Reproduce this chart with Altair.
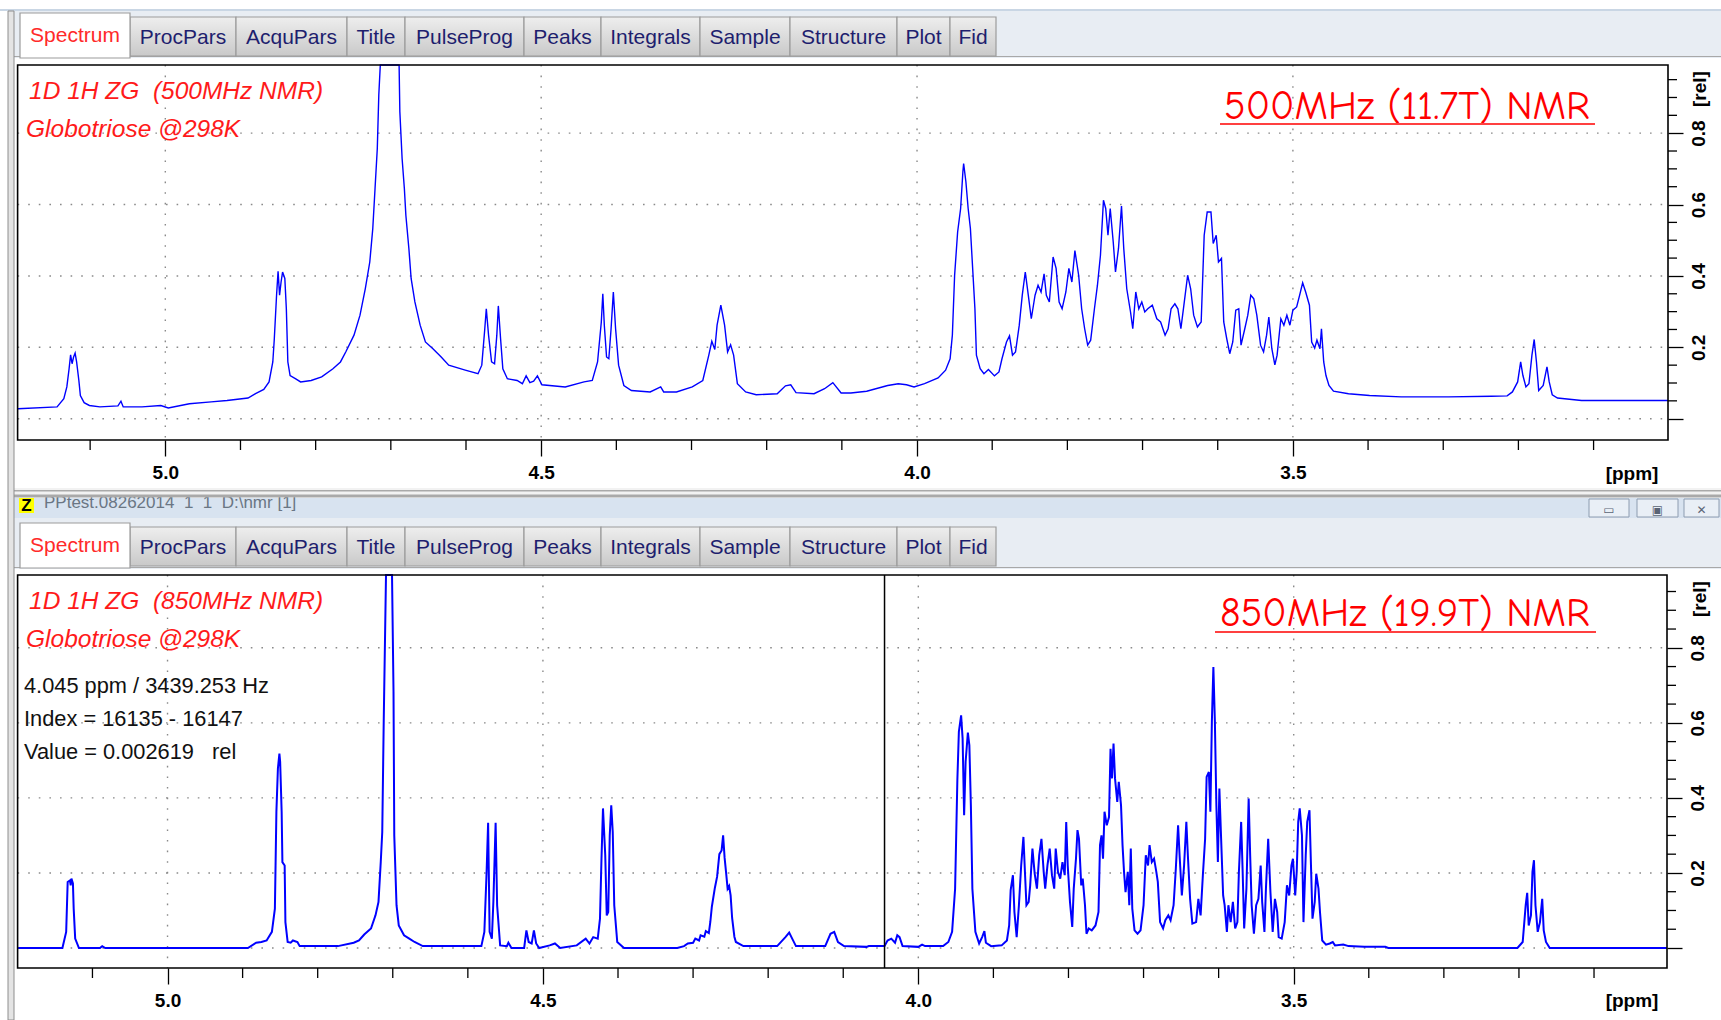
import altair as alt
import pandas as pd

W, H = 1721, 1020

# ---------------- data ----------------
spec_500 = [
    (5.196, 0.028), (5.144, 0.033), (5.135, 0.056), (5.131, 0.089), (5.128, 0.140), (5.126, 0.179),
    (5.124, 0.154), (5.122, 0.173), (5.120, 0.184), (5.118, 0.159), (5.115, 0.107), (5.113, 0.065),
    (5.108, 0.045), (5.101, 0.037), (5.087, 0.033), (5.063, 0.036), (5.059, 0.049), (5.056, 0.033),
    (5.031, 0.033), (5.006, 0.037), (4.996, 0.030), (4.968, 0.042), (4.939, 0.047), (4.918, 0.051),
    (4.890, 0.058), (4.880, 0.070), (4.869, 0.082), (4.862, 0.103), (4.857, 0.159), (4.855, 0.224),
    (4.852, 0.346), (4.850, 0.413), (4.848, 0.346), (4.846, 0.383), (4.844, 0.411), (4.841, 0.393),
    (4.839, 0.308), (4.837, 0.159), (4.834, 0.121), (4.827, 0.112), (4.820, 0.103), (4.806, 0.107),
    (4.792, 0.117), (4.777, 0.140), (4.767, 0.159), (4.760, 0.187), (4.749, 0.234), (4.741, 0.290),
    (4.734, 0.364), (4.728, 0.439), (4.724, 0.533), (4.721, 0.645), (4.718, 0.757), (4.716, 0.907),
    (4.714, 1.05), (4.702, 2.0), (4.689, 1.05), (4.688, 0.860), (4.685, 0.729), (4.682, 0.645),
    (4.680, 0.570), (4.676, 0.477), (4.673, 0.393), (4.668, 0.327), (4.661, 0.262), (4.654, 0.215),
    (4.644, 0.196), (4.633, 0.173), (4.623, 0.150), (4.601, 0.136), (4.584, 0.126), (4.579, 0.150),
    (4.575, 0.252), (4.573, 0.308), (4.570, 0.234), (4.566, 0.159), (4.562, 0.154), (4.559, 0.234),
    (4.557, 0.316), (4.554, 0.224), (4.551, 0.140), (4.545, 0.112), (4.532, 0.107), (4.525, 0.098),
    (4.520, 0.120), (4.515, 0.101), (4.510, 0.105), (4.505, 0.120), (4.499, 0.095), (4.468, 0.089),
    (4.443, 0.103), (4.432, 0.107), (4.425, 0.159), (4.420, 0.271), (4.418, 0.350), (4.416, 0.262),
    (4.413, 0.173), (4.410, 0.168), (4.407, 0.252), (4.404, 0.355), (4.401, 0.252), (4.397, 0.150),
    (4.390, 0.093), (4.380, 0.079), (4.355, 0.075), (4.341, 0.089), (4.337, 0.075), (4.320, 0.075),
    (4.299, 0.089), (4.285, 0.107), (4.277, 0.178), (4.273, 0.217), (4.269, 0.194), (4.266, 0.262),
    (4.261, 0.318), (4.256, 0.262), (4.252, 0.187), (4.248, 0.207), (4.244, 0.178), (4.239, 0.098),
    (4.228, 0.075), (4.214, 0.067), (4.186, 0.070), (4.175, 0.092), (4.168, 0.095), (4.161, 0.073),
    (4.137, 0.070), (4.123, 0.084), (4.112, 0.101), (4.101, 0.072), (4.088, 0.072), (4.067, 0.077),
    (4.039, 0.093), (4.025, 0.098), (4.014, 0.095), (4.004, 0.089), (3.990, 0.098), (3.972, 0.114),
    (3.962, 0.136), (3.956, 0.168), (3.953, 0.234), (3.950, 0.402), (3.946, 0.523), (3.942, 0.589),
    (3.939, 0.692), (3.938, 0.715), (3.935, 0.664), (3.932, 0.589), (3.929, 0.533), (3.926, 0.421),
    (3.923, 0.308), (3.921, 0.178), (3.916, 0.140), (3.911, 0.126), (3.905, 0.138), (3.897, 0.120),
    (3.891, 0.131), (3.887, 0.168), (3.881, 0.215), (3.877, 0.232), (3.873, 0.178), (3.869, 0.187),
    (3.864, 0.262), (3.860, 0.346), (3.856, 0.411), (3.852, 0.346), (3.848, 0.280), (3.843, 0.346),
    (3.839, 0.374), (3.835, 0.355), (3.831, 0.406), (3.828, 0.346), (3.824, 0.327), (3.819, 0.453),
    (3.815, 0.421), (3.811, 0.327), (3.807, 0.308), (3.802, 0.355), (3.798, 0.421), (3.794, 0.383),
    (3.790, 0.471), (3.785, 0.402), (3.781, 0.308), (3.777, 0.252), (3.773, 0.206), (3.769, 0.220),
    (3.764, 0.308), (3.760, 0.374), (3.756, 0.458), (3.752, 0.612), (3.749, 0.589), (3.746, 0.514),
    (3.743, 0.589), (3.739, 0.495), (3.736, 0.411), (3.732, 0.477), (3.728, 0.596), (3.725, 0.477),
    (3.721, 0.364), (3.716, 0.299), (3.713, 0.252), (3.709, 0.355), (3.705, 0.308), (3.701, 0.327),
    (3.697, 0.299), (3.693, 0.308), (3.687, 0.318), (3.681, 0.280), (3.676, 0.271), (3.670, 0.234),
    (3.666, 0.252), (3.662, 0.308), (3.657, 0.322), (3.653, 0.308), (3.649, 0.252), (3.645, 0.318),
    (3.640, 0.402), (3.636, 0.364), (3.632, 0.290), (3.627, 0.257), (3.622, 0.271), (3.618, 0.514),
    (3.614, 0.579), (3.609, 0.579), (3.606, 0.491), (3.602, 0.514), (3.599, 0.439), (3.595, 0.449),
    (3.592, 0.271), (3.588, 0.224), (3.584, 0.182), (3.580, 0.215), (3.576, 0.304), (3.572, 0.308),
    (3.569, 0.206), (3.564, 0.252), (3.560, 0.290), (3.556, 0.346), (3.552, 0.336), (3.548, 0.290),
    (3.543, 0.206), (3.539, 0.187), (3.535, 0.234), (3.532, 0.285), (3.528, 0.196), (3.524, 0.151),
    (3.521, 0.178), (3.516, 0.280), (3.512, 0.262), (3.508, 0.290), (3.504, 0.262), (3.500, 0.304),
    (3.495, 0.313), (3.491, 0.346), (3.487, 0.381), (3.483, 0.355), (3.478, 0.318), (3.475, 0.215),
    (3.471, 0.198), (3.468, 0.220), (3.464, 0.196), (3.462, 0.252), (3.459, 0.159), (3.456, 0.121),
    (3.452, 0.093), (3.446, 0.077), (3.426, 0.070), (3.398, 0.065), (3.356, 0.061), (3.293, 0.061),
    (3.236, 0.063), (3.215, 0.064), (3.208, 0.075), (3.201, 0.103), (3.197, 0.159), (3.194, 0.121),
    (3.190, 0.089), (3.186, 0.098), (3.182, 0.178), (3.179, 0.222), (3.176, 0.159), (3.173, 0.079),
    (3.167, 0.093), (3.162, 0.145), (3.159, 0.103), (3.155, 0.067), (3.148, 0.058), (3.116, 0.051),
    (3.046, 0.051), (3.001, 0.051),
]

spec_850 = [
    (5.199, 0.000), (5.140, 0.000), (5.135, 0.043), (5.133, 0.176), (5.130, 0.180), (5.129, 0.167),
    (5.128, 0.185), (5.126, 0.172), (5.125, 0.105), (5.123, 0.025), (5.118, 0.000), (5.090, 0.000),
    (5.087, 0.005), (5.083, 0.000), (4.893, 0.000), (4.882, 0.014), (4.875, 0.016), (4.868, 0.020),
    (4.861, 0.043), (4.857, 0.105), (4.855, 0.363), (4.853, 0.478), (4.851, 0.518), (4.850, 0.496),
    (4.848, 0.363), (4.847, 0.229), (4.844, 0.220), (4.843, 0.069), (4.840, 0.016), (4.836, 0.014),
    (4.833, 0.020), (4.827, 0.016), (4.824, 0.005), (4.773, 0.005), (4.752, 0.014), (4.745, 0.020),
    (4.738, 0.036), (4.729, 0.052), (4.723, 0.087), (4.719, 0.123), (4.716, 0.229), (4.714, 0.309),
    (4.712, 0.611), (4.709, 1.2), (4.705, 2.0), (4.701, 1.2), (4.699, 0.683), (4.698, 0.300),
    (4.695, 0.114), (4.692, 0.060), (4.685, 0.034), (4.678, 0.025), (4.671, 0.016), (4.660, 0.005),
    (4.582, 0.005), (4.578, 0.043), (4.575, 0.203), (4.573, 0.334), (4.571, 0.043), (4.568, 0.025),
    (4.566, 0.123), (4.563, 0.334), (4.561, 0.114), (4.557, 0.007), (4.548, 0.005), (4.546, 0.014),
    (4.542, 0.000), (4.525, 0.000), (4.522, 0.047), (4.519, 0.016), (4.515, 0.012), (4.512, 0.047),
    (4.509, 0.012), (4.505, 0.000), (4.491, 0.007), (4.484, 0.012), (4.477, 0.000), (4.455, 0.007),
    (4.443, 0.025), (4.438, 0.012), (4.433, 0.029), (4.427, 0.025), (4.424, 0.078), (4.422, 0.238),
    (4.420, 0.372), (4.417, 0.247), (4.415, 0.087), (4.413, 0.096), (4.411, 0.300), (4.409, 0.380),
    (4.407, 0.309), (4.405, 0.114), (4.401, 0.016), (4.392, 0.000), (4.321, 0.000), (4.312, 0.005),
    (4.307, 0.012), (4.300, 0.014), (4.297, 0.025), (4.292, 0.020), (4.290, 0.034), (4.285, 0.030),
    (4.283, 0.045), (4.279, 0.040), (4.277, 0.070), (4.275, 0.110), (4.271, 0.160), (4.268, 0.190),
    (4.265, 0.250), (4.262, 0.260), (4.260, 0.300), (4.258, 0.240), (4.256, 0.200), (4.254, 0.158),
    (4.252, 0.165), (4.250, 0.140), (4.248, 0.080), (4.245, 0.030), (4.243, 0.016), (4.233, 0.005),
    (4.188, 0.005), (4.177, 0.029), (4.172, 0.041), (4.168, 0.025), (4.163, 0.005), (4.124, 0.005),
    (4.117, 0.038), (4.112, 0.043), (4.107, 0.016), (4.099, 0.005),
    (4.069, 0.003), (4.066, 0.005), (4.045, 0.005), (4.041, 0.020), (4.036, 0.025), (4.031, 0.014),
    (4.028, 0.034), (4.025, 0.029), (4.021, 0.005), (4.000, 0.003), (3.995, 0.009), (3.991, 0.005),
    (3.967, 0.005), (3.960, 0.016), (3.955, 0.043), (3.951, 0.158), (3.948, 0.447), (3.946, 0.576),
    (3.943, 0.620), (3.941, 0.558), (3.939, 0.354), (3.937, 0.496), (3.934, 0.574), (3.932, 0.540),
    (3.930, 0.380), (3.928, 0.158), (3.924, 0.043), (3.919, 0.012), (3.915, 0.029), (3.912, 0.045),
    (3.910, 0.014), (3.903, 0.005), (3.889, 0.007), (3.882, 0.020), (3.879, 0.060), (3.877, 0.154),
    (3.874, 0.194), (3.872, 0.096), (3.869, 0.029), (3.866, 0.114), (3.863, 0.220), (3.860, 0.296),
    (3.858, 0.203), (3.856, 0.114), (3.853, 0.123), (3.851, 0.167), (3.848, 0.265), (3.845, 0.198),
    (3.842, 0.158), (3.839, 0.247), (3.836, 0.291), (3.833, 0.203), (3.831, 0.158), (3.828, 0.220),
    (3.825, 0.265), (3.822, 0.194), (3.819, 0.158), (3.817, 0.265), (3.814, 0.203), (3.811, 0.185),
    (3.808, 0.229), (3.805, 0.194), (3.803, 0.336), (3.801, 0.220), (3.798, 0.123), (3.795, 0.056),
    (3.793, 0.158), (3.790, 0.238), (3.788, 0.314), (3.786, 0.291), (3.783, 0.167), (3.781, 0.185),
    (3.778, 0.114), (3.776, 0.038), (3.773, 0.052), (3.769, 0.047), (3.764, 0.060), (3.760, 0.096),
    (3.758, 0.274), (3.756, 0.300), (3.754, 0.238), (3.752, 0.363), (3.749, 0.327), (3.746, 0.349),
    (3.744, 0.531), (3.742, 0.452), (3.740, 0.545), (3.738, 0.452), (3.735, 0.389), (3.733, 0.443),
    (3.730, 0.380), (3.728, 0.274), (3.726, 0.203), (3.724, 0.149), (3.721, 0.203), (3.719, 0.114),
    (3.717, 0.265), (3.715, 0.105), (3.712, 0.047), (3.708, 0.038), (3.704, 0.047), (3.700, 0.114),
    (3.697, 0.247), (3.694, 0.220), (3.692, 0.274), (3.689, 0.229), (3.686, 0.238), (3.683, 0.203),
    (3.681, 0.176), (3.678, 0.069), (3.674, 0.052), (3.671, 0.074), (3.667, 0.087), (3.664, 0.074),
    (3.660, 0.114), (3.657, 0.212), (3.654, 0.327), (3.652, 0.247), (3.649, 0.140), (3.646, 0.220),
    (3.643, 0.336), (3.641, 0.247), (3.638, 0.131), (3.635, 0.065), (3.630, 0.069), (3.627, 0.131),
    (3.624, 0.087), (3.621, 0.194), (3.618, 0.291), (3.616, 0.456), (3.613, 0.469), (3.611, 0.363),
    (3.609, 0.603), (3.607, 0.749), (3.605, 0.603), (3.603, 0.380), (3.601, 0.229), (3.599, 0.425),
    (3.597, 0.309), (3.594, 0.140), (3.592, 0.114), (3.589, 0.043), (3.587, 0.114), (3.584, 0.069),
    (3.581, 0.123), (3.578, 0.052), (3.575, 0.069), (3.573, 0.203), (3.570, 0.336), (3.568, 0.203),
    (3.566, 0.052), (3.563, 0.158), (3.560, 0.398), (3.558, 0.247), (3.556, 0.114), (3.553, 0.038),
    (3.550, 0.114), (3.547, 0.131), (3.544, 0.220), (3.542, 0.123), (3.539, 0.043), (3.537, 0.158),
    (3.534, 0.291), (3.531, 0.149), (3.528, 0.043), (3.525, 0.131), (3.522, 0.096), (3.520, 0.029),
    (3.516, 0.025), (3.512, 0.069), (3.509, 0.167), (3.506, 0.140), (3.503, 0.220), (3.501, 0.238),
    (3.498, 0.140), (3.496, 0.203), (3.494, 0.336), (3.492, 0.372), (3.489, 0.300), (3.487, 0.069),
    (3.484, 0.247), (3.482, 0.336), (3.479, 0.367), (3.477, 0.220), (3.475, 0.078), (3.472, 0.123),
    (3.470, 0.198), (3.467, 0.158), (3.465, 0.096), (3.462, 0.020), (3.457, 0.009), (3.452, 0.012),
    (3.448, 0.016), (3.445, 0.007), (3.434, 0.009), (3.427, 0.005), (3.406, 0.003), (3.378, 0.003),
    (3.374, 0.000), (3.202, 0.000), (3.195, 0.016), (3.191, 0.114), (3.189, 0.147), (3.187, 0.060),
    (3.184, 0.087), (3.182, 0.203), (3.180, 0.234), (3.178, 0.114), (3.175, 0.043), (3.172, 0.069),
    (3.169, 0.131), (3.167, 0.047), (3.164, 0.016), (3.159, 0.000), (3.003, 0.000),
]

tab_labels = ["Spectrum", "ProcPars", "AcquPars", "Title", "PulseProg", "Peaks",
              "Integrals", "Sample", "Structure", "Plot", "Fid"]
ppm_major = [5.0, 4.5, 4.0, 3.5]
ppm_minor = [5.1, 4.9, 4.8, 4.7, 4.6, 4.4, 4.3, 4.2, 4.1, 3.9, 3.8, 3.7, 3.6, 3.4, 3.3, 3.2, 3.1]
rel_major = [0.0, 0.2, 0.4, 0.6, 0.8]
rel_minor = [0.05, 0.1, 0.15, 0.25, 0.3, 0.35, 0.45, 0.5, 0.55, 0.65, 0.7, 0.75, 0.85, 0.9, 0.95]
cursor_ppm = [4.045]
titles_500 = ["1D 1H ZG  (500MHz NMR)", "Globotriose @298K"]
titles_850 = ["1D 1H ZG  (850MHz NMR)", "Globotriose @298K"]
readout_850 = ["4.045 ppm / 3439.253 Hz", "Index = 16135 - 16147", "Value = 0.002619   rel"]
field_500 = "500MHz (11.7T) NMR"
field_850 = "850MHz (19.9T) NMR"
window_title = "PPtest.08262014  1  1  D:\\nmr [1]"

# ---------------- layout (pixels) ----------------
TAB_EDGES = [20, 130, 236, 347, 405, 524, 601, 700, 790, 897, 950, 996]
G500 = dict(x0=17.6, x1=1668.0, y0=65.0, y1=440.0, p0=5.1965, p1=3.001, r0=-0.0597, r1=0.991,
            tab_top=17, tab_bot=56, act_top=13, act_bot=58, strip0=11, strip1=58)
G850 = dict(x0=17.6, x1=1667.0, y0=575.0, y1=968.0, p0=5.1997, p1=3.0028, r0=-0.0533, r1=0.994,
            tab_top=527, tab_bot=566, act_top=523, act_bot=568, strip0=518, strip1=569)

SANS = "Liberation Sans, Arial, sans-serif"
AXF = "Liberation Sans, Arial, sans-serif"
BLUE = "#0000FF"
RED = "#FF1A1A"


def keep_spaces(s):
    # keep runs of spaces visible in SVG text
    return s.replace("  ", " \u00a0")


def fixed_x(f):
    return alt.X(f, scale=None, axis=None)


def fixed_y(f):
    return alt.Y(f, scale=None, axis=None)


def rects(rows, **kw):
    df = pd.DataFrame(rows, columns=["x", "x2", "y", "y2"])
    return alt.Chart(df).mark_rect(**kw).encode(
        x=fixed_x("x:Q"), x2="x2:Q", y=fixed_y("y:Q"), y2="y2:Q")


def texts(rows, **kw):
    df = pd.DataFrame(rows, columns=["x", "y", "t"])
    df["t"] = df["t"].map(keep_spaces)
    return alt.Chart(df).mark_text(**kw).encode(
        x=fixed_x("x:Q"), y=fixed_y("y:Q"), text="t:N")


def panel(spec, g, lw, cursor=None):
    xs = alt.Scale(domain=[g["p0"], g["p1"]], range=[g["x0"], g["x1"]], nice=False, zero=False)
    ys = alt.Scale(domain=[g["r0"], g["r1"]], range=[g["y1"], g["y0"]], nice=False, zero=False,
                   clamp=True)
    xax = alt.Axis(orient="bottom", offset=g["y1"] - H, values=ppm_major, format=".1f",
                   tickSize=16, tickWidth=1.3, tickColor="black", domain=False, grid=False,
                   labelFont=AXF, labelFontSize=19, labelFontWeight="bold", labelColor="black",
                   labelPadding=7, labelFlush=False, labelOverlap=False, title=None, zindex=2)
    yax = alt.Axis(orient="right", offset=g["x1"] - W, values=rel_major,
                   labelExpr="datum.value == 0 ? '' : format(datum.value, '.1f')",
                   tickSize=15, tickWidth=1.3, tickColor="black", domain=False, grid=False,
                   labelFont=AXF, labelFontSize=19, labelFontWeight="bold", labelColor="black",
                   labelAngle=-90, labelAlign="center", labelBaseline="top", labelPadding=6,
                   labelFlush=False, labelOverlap=False, title=None, zindex=2)

    def X():
        return alt.X("ppm:Q", scale=xs, axis=xax)

    def Y():
        return alt.Y("rel:Q", scale=ys, axis=yax)

    grid_style = dict(color="#8a8a8a", strokeDash=[1.6, 9], strokeWidth=1.4)
    vgrid = alt.Chart(pd.DataFrame({"ppm": ppm_major})).mark_rule(**grid_style).encode(
        x=X(), y=alt.value(g["y0"]), y2=alt.value(g["y1"]))
    hgrid = alt.Chart(pd.DataFrame({"rel": rel_major})).mark_rule(**grid_style).encode(
        y=Y(), x=alt.value(g["x0"]), x2=alt.value(g["x1"]))
    xminor = alt.Chart(pd.DataFrame({"ppm": ppm_minor})).mark_rule(color="black", strokeWidth=1.3).encode(
        x=X(), y=alt.value(g["y1"]), y2=alt.value(g["y1"] + 10))
    yminor = alt.Chart(pd.DataFrame({"rel": rel_minor})).mark_rule(color="black", strokeWidth=1.3).encode(
        y=Y(), x=alt.value(g["x1"]), x2=alt.value(g["x1"] + 9))
    df = pd.DataFrame(spec, columns=["ppm", "rel"])
    line = alt.Chart(df).mark_line(color=BLUE, strokeWidth=lw, strokeJoin="miter").encode(
        x=X(), y=Y(), order="ppm:Q")
    layers = [vgrid, hgrid, xminor, yminor, line]
    if cursor is not None:
        layers.append(alt.Chart(pd.DataFrame({"ppm": cursor})).mark_rule(color="black", strokeWidth=1.5).encode(
            x=X(), y=alt.value(g["y0"]), y2=alt.value(g["y1"])))
    frame = alt.Chart(pd.DataFrame({"k": [0]})).mark_rect(fillOpacity=0, stroke="black", strokeWidth=1.6).encode(
        x=alt.value(g["x0"]), x2=alt.value(g["x1"]), y=alt.value(g["y0"]), y2=alt.value(g["y1"]))
    layers.append(frame)
    return alt.layer(*layers)


def tab_bar(g):
    out = []
    out.append(rects([(13, W, g["strip0"], g["strip1"])], fill="#E8EDF3"))
    out.append(rects([(13, W, g["strip1"] - 2, g["strip1"] - 1)], fill="#A8A8A8"))
    inactive = [(TAB_EDGES[i], TAB_EDGES[i + 1], g["tab_top"], g["tab_bot"]) for i in range(1, len(TAB_EDGES) - 1)]
    grad = alt.Gradient(gradient="linear", x1=0, y1=0, x2=0, y2=1,
                        stops=[alt.GradientStop(color="#EEEEEE", offset=0),
                               alt.GradientStop(color="#C9C9C9", offset=1)])
    out.append(rects(inactive, fill=grad, stroke="#9C9C9C", strokeWidth=1.2))
    out.append(rects([(TAB_EDGES[0], TAB_EDGES[1], g["act_top"], g["act_bot"])], fill="white",
                     stroke="#9C9C9C", strokeWidth=1.2))
    ty = (g["tab_top"] + g["tab_bot"]) / 2 + 1
    centers = [(TAB_EDGES[i] + TAB_EDGES[i + 1]) / 2 for i in range(len(tab_labels))]
    out.append(texts([(centers[0], ty - 2, tab_labels[0])], font=SANS, fontSize=21, color="#FF2A2A",
                     align="center", baseline="middle"))
    out.append(texts([(centers[i], ty, tab_labels[i]) for i in range(1, len(tab_labels))], font=SANS,
                     fontSize=21, color="#1E1E6E", align="center", baseline="middle"))
    return out


layers = []
# window background pieces
layers.append(rects([(0, W, 9, 11)], fill="#C9D6E4"))
layers += tab_bar(G500)
# window title bar between the panels
layers.append(rects([(9, W, 498, 518)], fill="#D8E3F0"))
layers.append(rects([(19, 34, 498, 513)], fill="#FFFF00"))
layers.append(texts([(26.5, 511, "Z")], font=SANS, fontSize=17, fontWeight="bold", color="black",
                    align="center", baseline="alphabetic"))
layers.append(texts([(44, 508, window_title)], font=SANS, fontSize=17, color="#6A7684",
                    align="left", baseline="alphabetic"))
layers.append(rects([(1589, 1629, 499, 517), (1637, 1678, 499, 517), (1684, 1719, 499, 517)],
                    fill="#E9EFF6", stroke="#8D9CB0", strokeWidth=1))
layers.append(texts([(1609, 510, "\u25AD"), (1657.5, 510, "\u25A3"), (1701.5, 510, "\u2715")],
                    font="DejaVu Sans", fontSize=12, color="#5A6475", align="center", baseline="middle"))
# separator lines covering the top of the window title
layers.append(rects([(9, W, 488, 496)], fill="#F2F2F2"))
layers.append(rects([(9, W, 490, 491.5), (9, W, 494.5, 497.5)], fill="#A9A9A9"))
layers += tab_bar(G850)
# left window border
layers.append(rects([(8, 14, 11, H)], fill="#E4E4E4", stroke="#8E8E8E", strokeWidth=1))

# spectra panels
layers.append(panel(spec_500, G500, 1.4))
layers.append(panel(spec_850, G850, 2.0, cursor=cursor_ppm))

# annotations
for g, titles in ((G500, titles_500), (G850, titles_850)):
    layers.append(texts([(29, g["y0"] + 27, titles[0]), (26, g["y0"] + 64.5, titles[1])],
                        font=SANS, fontSize=24.5, fontStyle="italic", color=RED,
                        align="left", baseline="middle"))
layers.append(texts([(24, 686, readout_850[0]), (24, 719, readout_850[1]), (24, 752, readout_850[2])],
                    font=SANS, fontSize=21.8, color="#111111", align="left", baseline="middle"))
layers.append(texts([(1407, 119, field_500), (1405, 626, field_850)],
                    font="Comic Sans MS, Comic Neue, Liberation Sans, sans-serif", fontSize=40,
                    color="#FF0000", align="center", baseline="alphabetic"))
layers.append(alt.Chart(pd.DataFrame({"k": [0]})).mark_rule(color="#FF4040", strokeWidth=2.2).encode(
    x=alt.value(1220), x2=alt.value(1595), y=alt.value(124)))
layers.append(alt.Chart(pd.DataFrame({"k": [0]})).mark_rule(color="#FF4040", strokeWidth=2.2).encode(
    x=alt.value(1215), x2=alt.value(1596), y=alt.value(632)))
layers.append(texts([(1632, 474, "[ppm]"), (1632, 1001, "[ppm]")], font=AXF, fontSize=19,
                    fontWeight="bold", color="black", align="center", baseline="middle"))
layers.append(texts([(1700, 89, "[rel]"), (1700, 599, "[rel]")], font=AXF, fontSize=19,
                    fontWeight="bold", color="black", align="center", baseline="middle", angle=270))

chart = alt.layer(*layers).resolve_scale(x="independent", y="independent").properties(
    width=W, height=H, padding=0, autosize=alt.AutoSizeParams(type="none"),
    background="white",
).configure_view(stroke=None)

chart.save("out.html", embed_options={"renderer": "svg", "actions": False})
